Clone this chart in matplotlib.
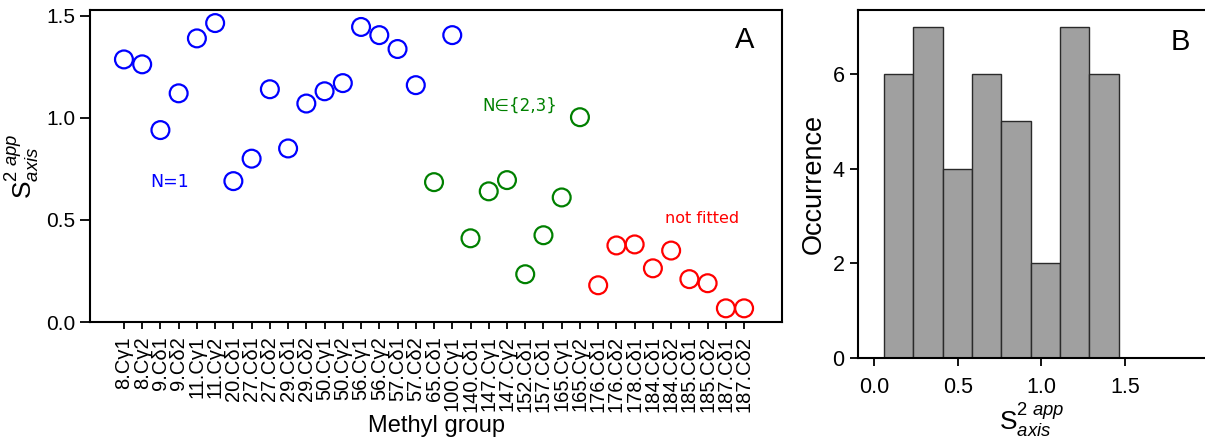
import numpy as np
import matplotlib
matplotlib.use("Agg")
import matplotlib.pyplot as plt

plt.rcParams['font.family'] = ['Liberation Sans', 'DejaVu Sans']
plt.rcParams['mathtext.fontset'] = 'custom'
plt.rcParams['mathtext.rm'] = 'Liberation Sans'
plt.rcParams['mathtext.it'] = 'Liberation Sans:italic'

# methyl groups and apparent order parameters
labels = ['8.Cγ1', '8.Cγ2', '9.Cδ1', '9.Cδ2', '11.Cγ1', '11.Cγ2', '20.Cδ1',
          '27.Cδ1', '27.Cδ2', '29.Cδ1', '29.Cδ2', '50.Cγ1', '50.Cγ2',
          '56.Cγ1', '56.Cγ2', '57.Cδ1', '57.Cδ2', '65.Cδ1', '100.Cγ1',
          '140.Cδ1', '147.Cγ1', '147.Cγ2', '152.Cδ1', '157.Cδ1', '165.Cγ1',
          '165.Cγ2', '176.Cδ1', '176.Cδ2', '178.Cδ1', '184.Cδ1', '184.Cδ2',
          '185.Cδ1', '185.Cδ2', '187.Cδ1', '187.Cδ2']
s2 = [1.286, 1.262, 0.94, 1.12, 1.389, 1.464, 0.69,
      0.80, 1.14, 0.85, 1.07, 1.13, 1.17,
      1.445, 1.405, 1.337, 1.16, 0.685, 1.405,
      0.41, 0.64, 0.695, 0.234, 0.425, 0.61,
      1.003, 0.18, 0.375, 0.38, 0.263, 0.35,
      0.21, 0.19, 0.067, 0.067]
# N=1 -> 'blue', N in {2,3} -> 'green', not fitted -> 'red'
group = ['blue'] * 17 + ['green', 'blue'] + ['green'] * 7 + ['red'] * 9

# histogram (panel B)
hist_edges = [0.056, 0.232, 0.408, 0.584, 0.760, 0.936, 1.112, 1.288, 1.464]
hist_counts = [6, 7, 4, 6, 5, 2, 7, 6]

fig = plt.figure(figsize=(12.05, 4.47), dpi=100)

# Panel A
ax = fig.add_axes([0.0747, 0.2796, 0.5743, 0.698])
x = np.arange(len(labels))
colors = {'blue': '#0000ff', 'green': '#008000', 'red': '#ff0000'}
for g in ['blue', 'green', 'red']:
    idx = [i for i in range(len(labels)) if group[i] == g]
    ax.scatter(x[idx], np.array(s2)[idx], s=165, facecolors='none',
               edgecolors=colors[g], linewidths=1.6, zorder=3)
ax.set_xlim(-1.86, 36.08)
ax.set_ylim(0, 1.528)
ax.set_xticks(x)
ax.set_xticklabels(labels, rotation=90, fontsize=14.5)
ax.set_yticks([0.0, 0.5, 1.0, 1.5])
ax.set_yticklabels(['0.0', '0.5', '1.0', '1.5'], fontsize=15)
ax.tick_params(axis='y', direction='out', length=7, width=1.3)
ax.tick_params(axis='x', direction='out', length=5, width=1.3, pad=5)
for sp in ax.spines.values():
    sp.set_linewidth(1.5)
ax.set_xlabel('Methyl group', fontsize=17, labelpad=2)
ax.set_ylabel(r'$\mathrm{S}^{\mathit{2\ app}}_{\mathit{axis}}$', fontsize=19)
ax.text(0.946, 0.904, 'A', transform=ax.transAxes, fontsize=21,
        ha='center', va='center')
ax.text(2.52, 0.685, 'N=1', color='#0000ff', fontsize=12.5,
        family='DejaVu Sans', ha='center', va='center')
ax.text(21.7, 1.057, 'N∈{2,3}', color='#008000', fontsize=12,
        family='DejaVu Sans', ha='center', va='center')
ax.text(31.7, 0.508, 'not fitted', color='#ff0000', fontsize=11.5,
        family='DejaVu Sans', ha='center', va='center')

# Panel B
bx = fig.add_axes([0.7118, 0.199, 0.2882, 0.7786])
bx.hist(hist_edges[:-1], bins=hist_edges, weights=hist_counts,
        color='#a0a0a0', edgecolor='#2a2a2a', linewidth=1.0)
bx.set_xlim(-0.1, 1.98)
bx.set_ylim(0, 7.35)
bx.set_xticks([0.0, 0.5, 1.0, 1.5])
bx.set_xticklabels(['0.0', '0.5', '1.0', '1.5'], fontsize=15.5)
bx.set_yticks([0, 2, 4, 6])
bx.set_yticklabels(['0', '2', '4', '6'], fontsize=15.5)
bx.tick_params(direction='out', length=6, width=1.3)
bx.tick_params(axis='x', pad=8)
bx.spines['right'].set_visible(False)
for sp in bx.spines.values():
    sp.set_linewidth(1.5)
bx.set_ylabel('Occurrence', fontsize=19.5)
bx.set_xlabel(r'$\mathrm{S}^{\mathit{2\ app}}_{\mathit{axis}}$', fontsize=19,
              labelpad=2)
bx.text(0.928, 0.908, 'B', transform=bx.transAxes, fontsize=21,
        ha='center', va='center')

fig.savefig('out.png', dpi=100)
